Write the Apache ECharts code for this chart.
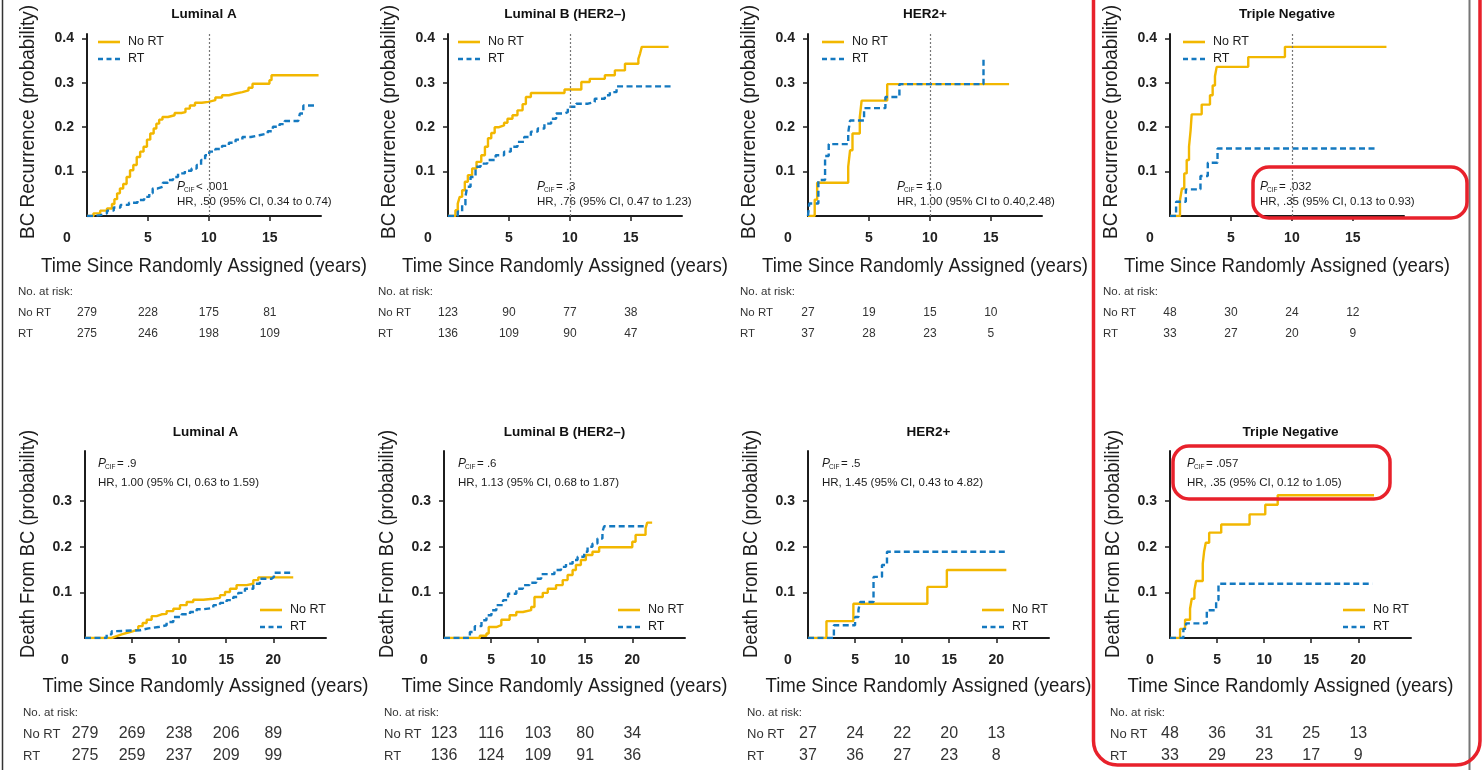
<!DOCTYPE html>
<html>
<head>
<meta charset="utf-8">
<script src="https://cdn.jsdelivr.net/npm/echarts@6/dist/echarts.min.js"></script>
<style>
  html, body { margin: 0; padding: 0; background: #fff; }
  #chart { width: 1483px; height: 770px; }
</style>
</head>
<body>
<div id="chart"></div>
<script>
// ---- cumulative incidence, BC recurrence: [years, probability] (value after the jump)
const bcLumA_NoRT = [[0,0],[0.53,0.006],[1.08,0.012],[1.64,0.017],[2.05,0.027],[2.25,0.038],[2.47,0.051],[2.7,0.062],[2.97,0.072],[3.25,0.088],[3.53,0.103],[3.8,0.115],[4.08,0.133],[4.36,0.145],[4.64,0.156],[4.92,0.172],[5.19,0.186],[5.47,0.197],[5.69,0.208],[5.92,0.217],[6.19,0.223],[6.64,0.227],[7.19,0.232],[7.75,0.234],[8.08,0.242],[8.44,0.249],[8.86,0.255],[9.42,0.257],[9.97,0.261],[10.53,0.267],[11.08,0.272],[11.64,0.276],[12.19,0.279],[12.75,0.283],[13.25,0.289],[13.58,0.298],[14.97,0.306],[15.14,0.317],[19.0,0.317]];
const bcLumA_RT = [[0,0],[0.53,0.002],[1.08,0.006],[1.64,0.012],[2.19,0.019],[2.75,0.025],[3.44,0.03],[4.14,0.036],[4.69,0.043],[5.11,0.051],[5.39,0.062],[5.81,0.066],[6.22,0.075],[6.64,0.081],[7.06,0.088],[7.47,0.096],[8.03,0.102],[8.58,0.107],[9.0,0.115],[9.36,0.126],[9.69,0.137],[10.03,0.145],[10.53,0.151],[11.08,0.158],[11.64,0.165],[12.19,0.172],[12.75,0.178],[13.44,0.182],[14.14,0.186],[14.83,0.191],[15.25,0.201],[15.8,0.207],[16.22,0.214],[17.33,0.214],[17.47,0.231],[17.75,0.249],[18.72,0.249]];
const bcLumB_NoRT = [[0,0],[0.61,0.013],[0.8,0.028],[0.96,0.043],[1.16,0.058],[1.38,0.077],[1.63,0.092],[1.98,0.107],[2.34,0.122],[2.73,0.137],[3.03,0.156],[3.28,0.175],[3.55,0.187],[3.83,0.2],[4.19,0.204],[4.6,0.21],[4.88,0.219],[5.29,0.227],[5.7,0.238],[6.12,0.252],[6.39,0.268],[6.8,0.277],[9.56,0.285],[10.94,0.302],[11.63,0.309],[12.87,0.317],[13.69,0.328],[14.52,0.343],[15.62,0.354],[15.76,0.366],[15.9,0.381],[18.1,0.381]];
const bcLumB_RT = [[0,0],[0.8,0.01],[1.16,0.025],[1.43,0.043],[1.57,0.066],[1.85,0.088],[2.26,0.111],[2.67,0.118],[3.22,0.126],[3.91,0.137],[4.6,0.145],[5.15,0.156],[5.7,0.167],[6.25,0.178],[6.8,0.19],[7.36,0.197],[7.91,0.208],[8.46,0.219],[8.87,0.231],[9.56,0.234],[9.83,0.246],[10.52,0.253],[11.49,0.257],[12.04,0.264],[12.87,0.272],[13.28,0.279],[13.83,0.292],[18.51,0.292]];
const bcHer2_NoRT = [[0,0],[0.55,0.037],[0.75,0.075],[3.3,0.111],[3.45,0.148],[3.65,0.186],[4.25,0.223],[4.4,0.26],[6.5,0.297],[16.5,0.297]];
const bcHer2_RT = [[0,0],[0.1,0.028],[0.85,0.081],[1.4,0.135],[1.7,0.162],[3.3,0.188],[3.45,0.215],[4.6,0.243],[6.35,0.268],[7.5,0.297],[14.4,0.36]];
const bcTN_NoRT = [[0,0],[0.82,0.036],[0.98,0.062],[1.17,0.096],[1.37,0.126],[1.56,0.156],[1.69,0.193],[1.78,0.229],[2.6,0.251],[3.28,0.272],[3.5,0.294],[3.69,0.315],[3.83,0.336],[6.42,0.358],[9.43,0.381],[17.76,0.381]];
const bcTN_RT = [[0,0],[0.5,0.032],[1.3,0.06],[2.5,0.09],[3.1,0.12],[3.9,0.152],[16.9,0.152]];

// ---- cumulative incidence, death from BC
const deathLumA_NoRT = [[0,0],[2.83,0.004],[3.36,0.008],[3.89,0.012],[4.6,0.015],[5.13,0.019],[5.66,0.026],[6.12,0.033],[6.55,0.04],[7.08,0.048],[7.61,0.052],[8.14,0.053],[8.67,0.059],[9.38,0.064],[10.09,0.072],[10.8,0.079],[11.5,0.084],[12.57,0.086],[13.63,0.088],[14.34,0.094],[14.87,0.101],[15.4,0.108],[16.1,0.116],[17.17,0.119],[17.88,0.127],[18.41,0.133],[22.12,0.133]];
const deathLumA_RT = [[0,0],[2.3,0.008],[2.83,0.015],[3.36,0.017],[5.84,0.021],[6.73,0.024],[7.79,0.028],[8.67,0.035],[9.38,0.046],[10.27,0.052],[11.15,0.057],[11.86,0.063],[12.57,0.066],[13.63,0.072],[14.34,0.077],[15.04,0.083],[15.75,0.09],[16.28,0.099],[16.99,0.108],[17.88,0.119],[18.58,0.13],[19.82,0.134],[20.07,0.143],[22.12,0.143]];
const deathLumB_NoRT = [[0,0],[3.8,0.005],[4.51,0.01],[4.75,0.024],[5.56,0.028],[6.09,0.04],[6.97,0.05],[7.68,0.057],[8.38,0.061],[9.26,0.068],[9.61,0.09],[10.49,0.099],[11.02,0.108],[11.9,0.116],[12.61,0.127],[13.13,0.138],[13.66,0.149],[14.01,0.16],[14.54,0.171],[15.07,0.182],[15.77,0.189],[16.48,0.199],[20.0,0.211],[20.35,0.226],[21.41,0.24],[21.58,0.253],[22.11,0.253]];
const deathLumB_RT = [[0,0],[2.75,0.013],[3.27,0.026],[3.98,0.039],[4.51,0.05],[5.04,0.061],[5.56,0.072],[6.27,0.083],[6.8,0.097],[7.68,0.108],[8.38,0.116],[9.08,0.121],[9.79,0.13],[10.32,0.14],[11.73,0.149],[12.43,0.156],[12.96,0.163],[13.66,0.171],[14.19,0.178],[14.89,0.189],[15.25,0.2],[15.77,0.207],[16.3,0.218],[16.83,0.233],[17.01,0.245],[21.41,0.245]];
const deathHer2_NoRT = [[0,0],[1.96,0.037],[4.82,0.075],[12.68,0.112],[14.75,0.149],[21.07,0.149]];
const deathHer2_RT = [[0,0],[2.75,0.028],[5.0,0.046],[5.36,0.062],[5.54,0.079],[6.96,0.134],[7.86,0.16],[8.39,0.189],[21.25,0.189]];
const deathTN_NoRT = [[0,0],[1.07,0.02],[1.6,0.04],[2.13,0.064],[2.31,0.086],[2.59,0.105],[2.77,0.125],[3.48,0.163],[3.62,0.189],[3.8,0.209],[4.16,0.231],[5.44,0.249],[8.45,0.271],[10.12,0.292],[11.44,0.313],[21.67,0.313]];
const deathTN_RT = [[0,0],[1.42,0.02],[1.7,0.032],[3.91,0.061],[4.9,0.083],[5.15,0.119],[21.49,0.119]];

// ---- numbers at risk
const riskTimesBC = [0, 5, 10, 15];
const riskTimesDeath = [0, 5, 10, 15, 20];
const riskBcLumA_NoRT = [279, 228, 175, 81];
const riskBcLumA_RT = [275, 246, 198, 109];
const riskBcLumB_NoRT = [123, 90, 77, 38];
const riskBcLumB_RT = [136, 109, 90, 47];
const riskBcHer2_NoRT = [27, 19, 15, 10];
const riskBcHer2_RT = [37, 28, 23, 5];
const riskBcTN_NoRT = [48, 30, 24, 12];
const riskBcTN_RT = [33, 27, 20, 9];
const riskDeathLumA_NoRT = [279, 269, 238, 206, 89];
const riskDeathLumA_RT = [275, 259, 237, 209, 99];
const riskDeathLumB_NoRT = [123, 116, 103, 80, 34];
const riskDeathLumB_RT = [136, 124, 109, 91, 36];
const riskDeathHer2_NoRT = [27, 24, 22, 20, 13];
const riskDeathHer2_RT = [37, 36, 27, 23, 8];
const riskDeathTN_NoRT = [48, 36, 31, 25, 13];
const riskDeathTN_RT = [33, 29, 23, 17, 9];

const YELLOW = '#F2B700';
const BLUE = '#1479C0';
const INK = '#1c1c1c';
const RED = '#E8212B';
const SANS = '"Liberation Sans", Arial, Helvetica, sans-serif';
const X_TITLE = 'Time Since Randomly Assigned (years)';

const rows = [
  { top: 34, height: 182, width: 234, xMax: 19.2, yMax: 0.41, yName: 'BC Recurrence (probability)',
    yTicks: [0.1, 0.2, 0.3, 0.4], xTicks: [0, 5, 10, 15], riskTimes: riskTimesBC,
    titleY: 14, noteY: [187, 202], legendTop: 30.5, riskY: [292, 313, 334],
    numFont: 12, rowFont: 11.5, xTitleY: 266, yTitleY: 122, yTitleLen: 234, refLine: true },
  { top: 451, height: 187, width: 241, xMax: 25.6, yMax: 0.41, yName: 'Death From BC (probability)',
    yTicks: [0.1, 0.2, 0.3], xTicks: [0, 5, 10, 15, 20], riskTimes: riskTimesDeath,
    titleY: 432, noteY: [464, 483], legendTop: 598.5, riskY: [713, 734, 756],
    numFont: 16, rowFont: 13, xTitleY: 686, yTitleY: 544, yTitleLen: 228, refLine: false }
];

const panels = [
  { row: 0, left: 87, title: 'Luminal A', noRT: bcLumA_NoRT, rt: bcLumA_RT, p: '< .001', hr: 'HR, .50 (95% CI, 0.34 to 0.74)', noteX: 177, legendX: 93, riskX: 18, riskNoRT: riskBcLumA_NoRT, riskRT: riskBcLumA_RT },
  { row: 0, left: 448, title: 'Luminal B (HER2\u2013)', noRT: bcLumB_NoRT, rt: bcLumB_RT, p: '= .3', hr: 'HR, .76 (95% CI, 0.47 to 1.23)', noteX: 537, legendX: 453, riskX: 378, riskNoRT: riskBcLumB_NoRT, riskRT: riskBcLumB_RT },
  { row: 0, left: 808, title: 'HER2+', noRT: bcHer2_NoRT, rt: bcHer2_RT, p: '= 1.0', hr: 'HR, 1.00 (95% CI to 0.40,2.48)', noteX: 897, legendX: 817, riskX: 740, riskNoRT: riskBcHer2_NoRT, riskRT: riskBcHer2_RT },
  { row: 0, left: 1170, title: 'Triple Negative', noRT: bcTN_NoRT, rt: bcTN_RT, p: '= .032', hr: 'HR, .35 (95% CI, 0.13 to 0.93)', noteX: 1260, legendX: 1178, riskX: 1103, riskNoRT: riskBcTN_NoRT, riskRT: riskBcTN_RT },
  { row: 1, left: 85, title: 'Luminal A', noRT: deathLumA_NoRT, rt: deathLumA_RT, p: '= .9', hr: 'HR, 1.00 (95% CI, 0.63 to 1.59)', noteX: 98, legendX: 255, riskX: 23, riskNoRT: riskDeathLumA_NoRT, riskRT: riskDeathLumA_RT },
  { row: 1, left: 444, title: 'Luminal B (HER2\u2013)', noRT: deathLumB_NoRT, rt: deathLumB_RT, p: '= .6', hr: 'HR, 1.13 (95% CI, 0.68 to 1.87)', noteX: 458, legendX: 613, riskX: 384, riskNoRT: riskDeathLumB_NoRT, riskRT: riskDeathLumB_RT },
  { row: 1, left: 808, title: 'HER2+', noRT: deathHer2_NoRT, rt: deathHer2_RT, p: '= .5', hr: 'HR, 1.45 (95% CI, 0.43 to 4.82)', noteX: 822, legendX: 977, riskX: 747, riskNoRT: riskDeathHer2_NoRT, riskRT: riskDeathHer2_RT },
  { row: 1, left: 1170, title: 'Triple Negative', noRT: deathTN_NoRT, rt: deathTN_RT, p: '= .057', hr: 'HR, .35 (95% CI, 0.12 to 1.05)', noteX: 1187, legendX: 1338, riskX: 1110, riskNoRT: riskDeathTN_NoRT, riskRT: riskDeathTN_RT }
];

const chart = echarts.init(document.getElementById('chart'), null, { renderer: 'canvas' });

const option = { animation: false, backgroundColor: '#fff', grid: [], xAxis: [], yAxis: [], series: [], legend: [] };

const solidIcon = 'path://M0,0H22V2.6H0Z';
const dashIcon = 'path://M0,0H5V2.6H0Z M8.5,0H13.5V2.6H8.5Z M17,0H22V2.6H17Z';

panels.forEach((p, i) => {
  const r = rows[p.row];
  option.grid.push({ left: p.left, top: r.top, width: r.width, height: r.height });
  option.xAxis.push({
    type: 'value', gridIndex: i, min: 0, max: r.xMax,
    axisLine: { onZero: false, lineStyle: { color: INK, width: 2 } },
    axisTick: { customValues: r.xTicks.filter(v => v > 0), length: 5, lineStyle: { color: INK, width: 1.5 } },
    axisLabel: {
      customValues: r.xTicks, margin: 15, fontSize: 14, fontWeight: 'bold', color: '#222', fontFamily: SANS,
      formatter: v => (v === 0 ? '{z|0}' : String(v)),
      rich: { z: { fontSize: 14, fontWeight: 'bold', color: '#222', fontFamily: SANS, padding: [0, 40, 0, 0] } }
    },
    splitLine: { show: false }
  });
  option.yAxis.push({
    type: 'value', gridIndex: i, min: 0, max: r.yMax,
    axisLine: { show: true, onZero: false, lineStyle: { color: INK, width: 2 } },
    axisTick: { show: true, customValues: r.yTicks, length: 5, lineStyle: { color: INK, width: 1.5 } },
    axisLabel: { customValues: r.yTicks, margin: 13, fontSize: 14, fontWeight: 'bold', color: '#222', fontFamily: SANS, formatter: v => v.toFixed(1) },
    splitLine: { show: false }
  });
  option.series.push({
    type: 'line', name: 'No RT', xAxisIndex: i, yAxisIndex: i, data: p.noRT, step: 'end', symbol: 'none',
    lineStyle: { color: YELLOW, width: 2.4 }, itemStyle: { color: YELLOW }, z: 3,
    markLine: r.refLine ? {
      silent: true, symbol: ['none', 'none'], label: { show: false },
      lineStyle: { type: [2, 2], color: '#777', width: 1.2 }, data: [{ xAxis: 10 }]
    } : undefined
  });
  option.series.push({
    type: 'line', name: 'RT', xAxisIndex: i, yAxisIndex: i, data: p.rt, step: 'end', symbol: 'none',
    lineStyle: { color: BLUE, width: 2.4, type: [6, 3.5] }, itemStyle: { color: BLUE }, z: 4
  });
  option.legend.push({
    orient: 'vertical', left: p.legendX, top: r.legendTop, itemWidth: 22, itemHeight: 2.6, itemGap: 4,
    selectedMode: false,
    textStyle: { fontSize: 12.5, color: INK, fontFamily: SANS, padding: [0, 0, 0, 3] },
    data: [{ name: 'No RT', icon: solidIcon }, { name: 'RT', icon: dashIcon }]
  });
});

chart.setOption(option);

// ---- texts, risk tables and highlight boxes
const measure = document.createElement('canvas').getContext('2d');
function condense(text, size, target) {
  measure.font = size + 'px ' + SANS;
  return target / measure.measureText(text).width;
}

const graphics = [];
function txt(x, y, text, style, extra) {
  graphics.push(Object.assign({
    type: 'text', x: x, y: y, silent: true,
    style: Object.assign({ text: text, fill: INK, fontFamily: SANS, fontSize: 12,
      align: 'left', textAlign: 'left', verticalAlign: 'middle', textVerticalAlign: 'middle' }, style || {})
  }, extra || {}));
}

panels.forEach((p, i) => {
  const r = rows[p.row];
  const cx = p.left + r.width / 2;
  txt(cx, r.titleY, p.title, { fontWeight: 'bold', fontSize: 13.5, align: 'center', textAlign: 'center', fill: '#111' });
  // axis titles (condensed face)
  txt(cx, r.xTitleY, X_TITLE, { fontSize: 21, align: 'center', textAlign: 'center' },
    { scaleX: condense(X_TITLE, 21, 326) });
  txt(p.left - 59 + (p.row === 1 ? 2 : 0), r.yTitleY, r.yName, { fontSize: 20, align: 'center', textAlign: 'center' },
    { rotation: Math.PI / 2, scaleX: condense(r.yName, 20, r.yTitleLen) });
  // P_CIF and hazard ratio
  txt(p.noteX, r.noteY[0], 'P', { fontStyle: 'italic', fontSize: 12 });
  txt(p.noteX + 7, r.noteY[0] + 3, 'CIF', { fontSize: 6.5 });
  txt(p.noteX + 19, r.noteY[0], p.p, { fontSize: 11.5 });
  txt(p.noteX, r.noteY[1], p.hr, { fontSize: 11.5 });
  // numbers at risk
  txt(p.riskX, r.riskY[0], 'No. at risk:', { fontSize: 11.5, fill: '#333' });
  txt(p.riskX, r.riskY[1], 'No RT', { fontSize: r.rowFont, fill: '#333' });
  txt(p.riskX, r.riskY[2], 'RT', { fontSize: r.rowFont, fill: '#333' });
  r.riskTimes.forEach((t, k) => {
    const x = chart.convertToPixel({ gridIndex: i }, [t, 0])[0];
    txt(x, r.riskY[1], String(p.riskNoRT[k]), { fontSize: r.numFont, fill: '#333', align: 'center', textAlign: 'center' });
    txt(x, r.riskY[2], String(p.riskRT[k]), { fontSize: r.numFont, fill: '#333', align: 'center', textAlign: 'center' });
  });
});

// page borders
graphics.push({ type: 'line', silent: true, shape: { x1: 2.5, y1: 0, x2: 2.5, y2: 770 }, style: { stroke: '#333', lineWidth: 1.5 } });
graphics.push({ type: 'line', silent: true, shape: { x1: 1469.5, y1: 0, x2: 1469.5, y2: 770 }, style: { stroke: '#777', lineWidth: 2 } });
// red highlight boxes
graphics.push({ type: 'rect', silent: true, z: 100, shape: { x: 1093.5, y: -25, width: 386.5, height: 790, r: 24 }, style: { fill: 'none', stroke: RED, lineWidth: 3.5 } });
graphics.push({ type: 'rect', silent: true, z: 100, shape: { x: 1253, y: 167, width: 214, height: 51, r: 16 }, style: { fill: 'none', stroke: RED, lineWidth: 3.5 } });
graphics.push({ type: 'rect', silent: true, z: 100, shape: { x: 1173, y: 446, width: 217, height: 53, r: 16 }, style: { fill: 'none', stroke: RED, lineWidth: 3.5 } });

chart.setOption({ graphic: { elements: graphics } });
</script>
</body>
</html>
